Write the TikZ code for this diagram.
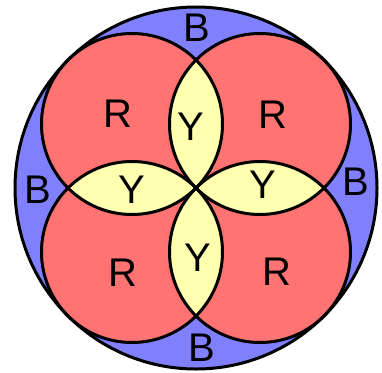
\documentclass[tikz,border=0pt]{standalone}
\usepackage{fontspec}
\setmainfont{Liberation Sans}
\usetikzlibrary{calc}
\definecolor{bluefill}{RGB}{128,128,255}
\definecolor{redfill}{RGB}{255,115,115}
\definecolor{yellowfill}{RGB}{255,255,176}
\tikzset{every picture/.style={line width=0.75pt}}

\begin{document}
\begin{tikzpicture}[
    x=1pt, y=-1pt,
    outline/.style={draw=black,line width=3pt},
    letter/.style={font=\fontsize{40}{40}\selectfont,inner sep=0pt}
]
    \useasboundingbox (0,0) rectangle (382,372);

    % Centres
    \coordinate (c) at (196,188);
    \coordinate (tl) at (132,124);
    \coordinate (tr) at (260,124);
    \coordinate (bl) at (132,252);
    \coordinate (br) at (260,252);

    % Outer circle
    \fill[bluefill] (c) circle (181);

    % Red circles
    \foreach \p in {tl,tr,bl,br}
        \fill[redfill] (\p) circle (90.5);

    % Yellow lenses
    \foreach \a/\b in {tl/tr,tl/bl,tr/br,bl/br}{
        \begin{scope}
            \clip (\a) circle (90.5);
            \fill[yellowfill] (\b) circle (90.5);
        \end{scope}
    }

    % Outlines
    \draw[outline] (c) circle (181);
    \foreach \p in {tl,tr,bl,br}
        \draw[outline] (\p) circle (90.5);

    % Labels
    \node[letter] (rtl) at (118,114) {R};
    \node[letter] (rtr) at (273,115) {R};
    \node[letter] (rbl) at (123,273) {R};
    \node[letter] (rbr) at (277,272) {R};
    \node[letter] (ytop) at (191,127) {Y};
    \node[letter] (yleft) at (132,190) {Y};
    \node[letter] (yright) at (263,185) {Y};
    \node[letter] (ybot) at (198,258) {Y};
    \node[letter] (btop) at (197,28) {B};
    \node[letter] (bleft) at (38,190) {B};
    \node[letter] (bright) at (356,182) {B};
    \node[letter] (bbot) at (202,348) {B};
\end{tikzpicture}
\end{document}
